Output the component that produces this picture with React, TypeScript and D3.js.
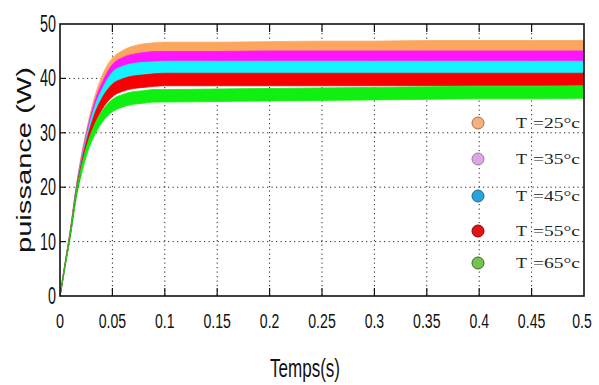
import React from "react";
import * as d3 from "d3";

const timeS = [0, 0.005, 0.01, 0.015, 0.02, 0.025, 0.03, 0.035, 0.04, 0.05, 0.06, 0.07, 0.08, 0.09, 0.1, 0.15, 0.2, 0.25, 0.3, 0.35, 0.4, 0.45, 0.5];
const power25 = [0, 6.0, 12.0, 19.0, 24.8, 29.5, 33.5, 36.8, 39.4, 42.6, 44.0, 44.8, 45.2, 45.4, 45.5, 45.5, 45.6, 45.7, 45.7, 45.8, 45.8, 45.8, 45.8];
const power35 = [0, 6.0, 11.9, 18.8, 24.3, 28.9, 32.7, 35.8, 38.1, 41.4, 42.7, 43.3, 43.6, 43.8, 43.8, 43.8, 43.9, 43.9, 43.9, 43.9, 43.9, 43.9, 43.9];
const power45 = [0, 5.9, 11.8, 18.6, 23.9, 28.3, 31.9, 34.8, 36.9, 40.0, 41.1, 41.6, 41.8, 41.9, 42.0, 42.0, 42.0, 42.0, 42.0, 42.0, 42.0, 42.0, 42.0];
const power55 = [0, 5.9, 11.7, 18.4, 23.4, 27.5, 30.8, 33.4, 35.3, 37.8, 38.8, 39.3, 39.5, 39.7, 39.8, 39.8, 39.8, 39.8, 39.8, 39.8, 39.8, 39.8, 39.8];
const power65 = [0, 5.8, 11.5, 18.0, 22.7, 26.4, 29.2, 31.3, 32.9, 35.0, 35.9, 36.4, 36.6, 36.8, 36.8, 36.9, 37.0, 37.1, 37.2, 37.3, 37.4, 37.4, 37.5];
const rippleHalf = [0.1, 0.25, 0.4, 0.55, 0.7, 0.8, 0.9, 1.0, 1.05, 1.15, 1.15, 1.15, 1.15, 1.15, 1.15, 1.15, 1.15, 1.15, 1.15, 1.15, 1.15, 1.15, 1.15];

const seriesValues = [power25, power35, power45, power55, power65];
const seriesColors = ["#fba55e", "#ff14ff", "#14f4ff", "#f80000", "#10f010"];
const legendLabels = ["=25°c", "=35°c", "=45°c", "=55°c", "=65°c"];
const legendColors = ["#f4b07c", "#dca6e4", "#2aa2dc", "#e01414", "#76c24e"];
const legendEdges = ["#a07050", "#9a7aa0", "#1a6a90", "#900000", "#3a6a2a"];

const xTicks = [0, 0.05, 0.1, 0.15, 0.2, 0.25, 0.3, 0.35, 0.4, 0.45, 0.5];
const xTickLabels = ["0", "0.05", "0.1", "0.15", "0.2", "0.25", "0.3", "0.35", "0.4", "0.45", "0.5"];
const yTicks = [0, 10, 20, 30, 40, 50];
const yTickLabels = ["0", "10", "20", "30", "40", "50"];

const W = 599, H = 385;
const left = 60, right = 584, top = 24, bottom = 296;

const labelLen = (s: string) => s.split("").reduce((a, c) => a + (c === "." ? 3.5 : 8), 0);

export default function App() {
  const x = d3.scaleLinear().domain([0, 0.5]).range([left, right]);
  const y = d3.scaleLinear().domain([0, 50]).range([bottom, top]);
  const idx = d3.range(timeS.length);

  const makeArea = (vals: number[]) =>
    d3.area<number>()
      .x((i) => x(timeS[i]))
      .y0((i) => y(vals[i] - rippleHalf[i]))
      .y1((i) => y(vals[i] + rippleHalf[i]))
      .curve(d3.curveMonotoneX)(idx) || "";

  const legendY = [123, 159, 196, 231, 263];

  return (
    <svg width={W} height={H} style={{ position: "absolute", left: 0, top: 0, background: "#fff" }}>
      <defs>
        <clipPath id="plotclip">
          <rect x={left} y={top} width={right - left} height={bottom - top} />
        </clipPath>
      </defs>
      <rect x={0} y={0} width={W} height={H} fill="#fff" />
      {/* grid */}
      <g stroke="#222" strokeWidth={1} strokeDasharray="1.2,3.3">
        {xTicks.slice(1, -1).map((t) => (
          <line key={"gx" + t} x1={x(t)} x2={x(t)} y1={top} y2={bottom} />
        ))}
        {yTicks.slice(1, -1).map((v) => (
          <line key={"gy" + v} x1={left} x2={right} y1={y(v)} y2={y(v)} />
        ))}
      </g>
      {/* series bands */}
      <g clipPath="url(#plotclip)">
        {seriesValues.map((vals, i) => (
          <path key={"s" + i} d={makeArea(vals)} fill={seriesColors[i]} stroke={seriesColors[i]} strokeWidth={0.8} />
        ))}
        <path
          d={d3.line<number>().x((i) => x(timeS[i])).y((i) => y(power65[i])).curve(d3.curveMonotoneX)(idx.slice(0, 5)) || ""}
          fill="none" stroke="#555" strokeWidth={1} strokeDasharray="3,2" opacity={0.6}
        />
      </g>
      {/* ticks */}
      <g stroke="#111" strokeWidth={1.2}>
        {xTicks.slice(1, -1).map((t) => (
          <g key={"tx" + t}>
            <line x1={x(t)} x2={x(t)} y1={bottom} y2={bottom - 8} />
            <line x1={x(t)} x2={x(t)} y1={top} y2={top + 8} />
          </g>
        ))}
        {yTicks.slice(1, -1).map((v) => (
          <line key={"ty" + v} x1={left} x2={left + 6} y1={y(v)} y2={y(v)} />
        ))}
      </g>
      {/* frame */}
      <rect x={left} y={top} width={right - left} height={bottom - top} fill="none" stroke="#111" strokeWidth={1.6} />
      {/* legend */}
      {legendLabels.map((lab, i) => (
        <g key={"lg" + i}>
          <circle cx={478} cy={legendY[i]} r={6} fill={legendColors[i]} stroke={legendEdges[i]} strokeWidth={1} />
          <text x={516} y={legendY[i] + 5} fontFamily="Liberation Serif, serif" fontSize={15} fill="#222" textLength={11} lengthAdjust="spacingAndGlyphs">T</text>
          <text x={533} y={legendY[i] + 5} fontFamily="Liberation Serif, serif" fontSize={14} fill="#222" textLength={47} lengthAdjust="spacingAndGlyphs">{lab}</text>
        </g>
      ))}
      {/* x tick labels */}
      {xTicks.map((t, i) => (
        <text key={"xl" + t} x={i === xTicks.length - 1 ? x(t) - 2 : x(t)} y={328} textAnchor="middle" fontFamily="Liberation Sans Narrow, Liberation Sans, sans-serif" fontSize={20} fill="#111"
          textLength={labelLen(xTickLabels[i])} lengthAdjust="spacingAndGlyphs">
          {xTickLabels[i]}
        </text>
      ))}
      {/* y tick labels */}
      {yTicks.map((v, i) => (
        <text key={"yl" + v} x={56} y={y(v) + 8} textAnchor="end" fontFamily="Liberation Sans Narrow, Liberation Sans, sans-serif" fontSize={23} fill="#111"
          textLength={labelLen(yTickLabels[i])} lengthAdjust="spacingAndGlyphs">
          {yTickLabels[i]}
        </text>
      ))}
      {/* axis titles */}
      <text x={305} y={377} textAnchor="middle" fontFamily="Liberation Sans Narrow, Liberation Sans, sans-serif" fontSize={25} fill="#111"
        textLength={70} lengthAdjust="spacingAndGlyphs">Temps(s)</text>
      <text transform="translate(31,160) rotate(-90)" textAnchor="middle" fontFamily="Liberation Sans, Arial, sans-serif" fontSize={20} fill="#111"
        textLength={186} lengthAdjust="spacingAndGlyphs">puissance (W)</text>
    </svg>
  );
}
